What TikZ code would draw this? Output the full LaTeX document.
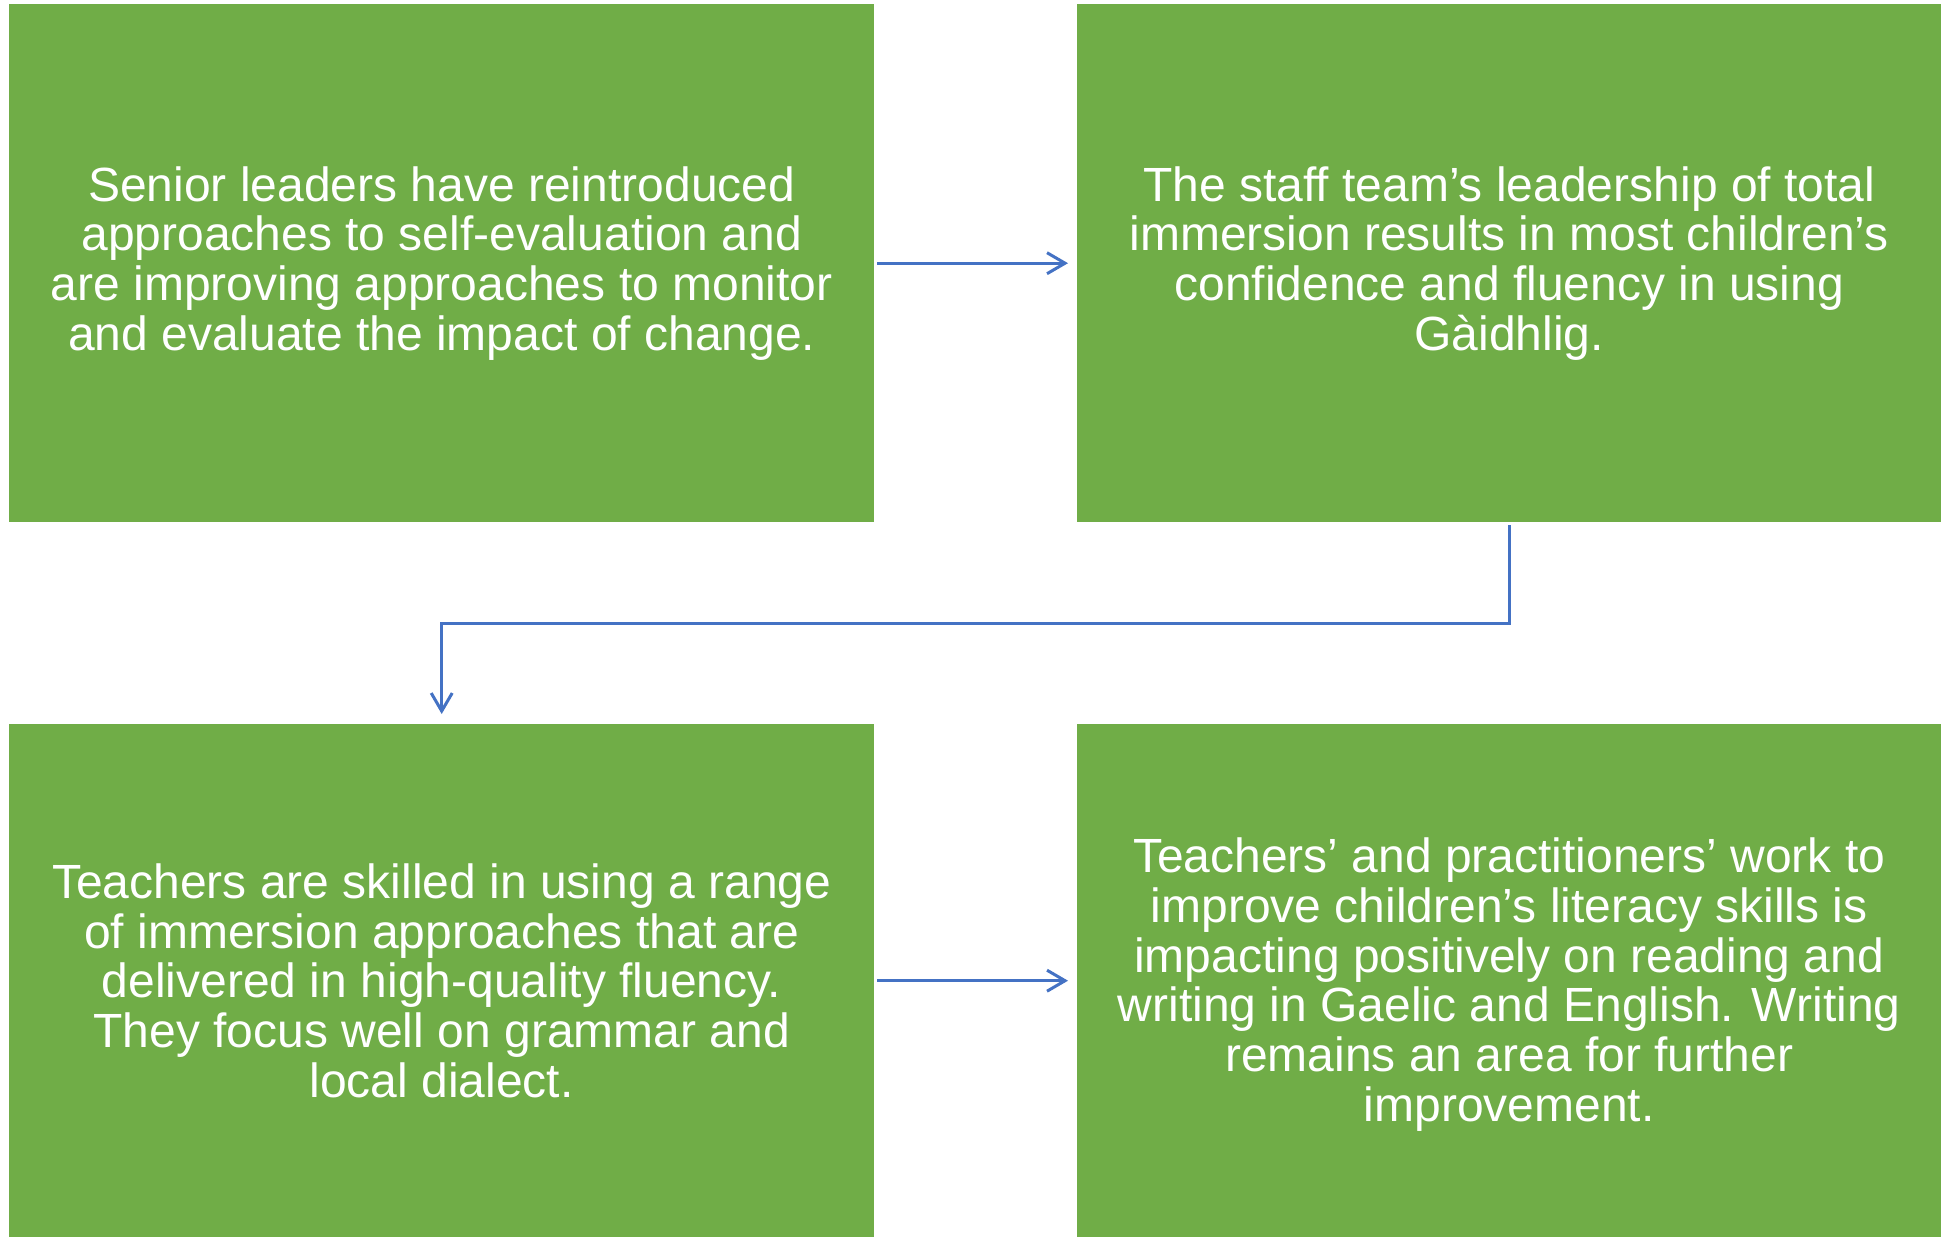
\documentclass[tikz,border=0pt]{standalone}
\usepackage{fontspec}
\setmainfont{Liberation Sans}
\usetikzlibrary{arrows.meta}
\definecolor{boxgreen}{HTML}{70AD47}
\definecolor{arrowblue}{HTML}{4472C4}
\begin{document}
\begin{tikzpicture}[x=1pt,y=-1pt,
  gbox/.style={fill=boxgreen,draw=none,anchor=north west,inner sep=0pt,
    text=white,align=center,font=\fontsize{48}{49.7}\selectfont},
  gtext/.style={inner sep=0pt,text=white,align=center,font=\fontsize{48}{49.7}\selectfont},
  arr/.style={draw=arrowblue,line width=3pt,-{Straight Barb[length=18pt,width=21pt]}}]
\useasboundingbox (0,0) rectangle (1941,1237);
\fill[white] (0,0) rectangle (1941,1237);
\node[gbox,minimum width=865pt,minimum height=518pt] (b1) at (9,4)
  {Senior leaders have reintroduced\\ approaches to self-evaluation and\\ are improving approaches to monitor\\ and evaluate the impact of change.};
\node[gbox,minimum width=864pt,minimum height=518pt] (b2) at (1077,4)
  {The staff team’s leadership of total\\ immersion results in most children’s\\ confidence and fluency in using\\ Gàidhlig.};
\node[gbox,minimum width=865pt,minimum height=513pt] (b3) at (9,724)
  {Teachers are skilled in using a range\\ of immersion approaches that are\\ delivered in high-quality fluency.\\ They focus well on grammar and\\ local dialect.};
\node[gbox,minimum width=864pt,minimum height=513pt] (b4) at (1077,724) {};
\node[gtext] (t4) at ([yshift=-4pt]b4.center)
  {Teachers’ and practitioners’ work to\\ improve children’s literacy skills is\\ impacting positively on reading and\\ writing in Gaelic and English. Writing\\ remains an area for further\\ improvement.};
\draw[arr] ([xshift=3pt]b1.east) -- ([xshift=-9pt]b2.west);
\draw[arr] ([yshift=-3pt]b2.south) -- ++(0,98) -| ([yshift=10pt]b3.north);
\draw[arr] ([xshift=3pt]b3.east) -- ([xshift=-9pt]b4.west);
\end{tikzpicture}
\end{document}
